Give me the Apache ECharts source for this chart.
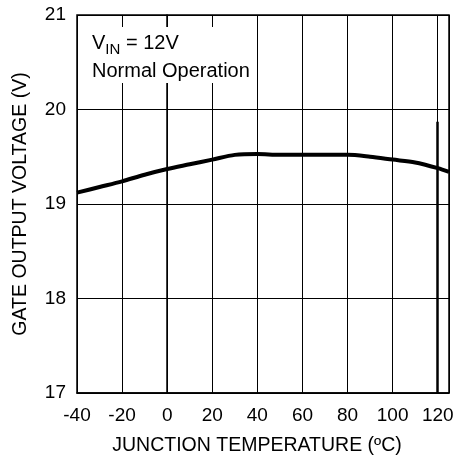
<!DOCTYPE html>
<html>
<head>
<meta charset="utf-8">
<script src="https://cdn.jsdelivr.net/npm/echarts@6/dist/echarts.min.js"></script>
<style>
  html, body { margin: 0; padding: 0; background: #fff; }
  #chart { width: 460px; height: 462px; }
</style>
</head>
<body>
<div id="chart"></div>
<script>
// junction temperature (C) vs gate output voltage (V)
const temps = [-40, -30, -20, -10, 0, 10, 20, 30, 40, 50, 60, 70, 80, 90, 100, 110, 120, 125];
const volts = [19.12, 19.18, 19.24, 19.31, 19.37, 19.42, 19.47, 19.52, 19.53, 19.52, 19.52, 19.52, 19.52, 19.50, 19.47, 19.44, 19.38, 19.34];
// heavy vertical stroke seen at 120C in the original
const markerSeg = [[120, 19.87], [120, 17]];

const chart = echarts.init(document.getElementById('chart'));
const font = 'Liberation Sans, Arial, sans-serif';

const option = {
  animation: false,
  backgroundColor: '#fff',
  grid: {
    left: 77,
    right: 11,
    top: 15,
    bottom: 69,
    show: true,
    borderColor: '#000',
    borderWidth: 1.5
  },
  title: {
    left: 88,
    top: 27,
    padding: [2, 4, 2, 4],
    backgroundColor: '#fff',
    text: '{a|V}{b|IN}{a| = 12V}\n{a|Normal Operation}',
    textStyle: {
      fontWeight: 'normal',
      rich: {
        a: { fontSize: 20, fontFamily: font, fontWeight: 'normal', color: '#000', lineHeight: 28 },
        b: { fontSize: 15, fontFamily: font, fontWeight: 'normal', color: '#000', lineHeight: 28, padding: [13, 0, 0, 0] }
      }
    }
  },
  xAxis: {
    type: 'value',
    min: -40,
    max: 125,
    interval: 20,
    name: 'JUNCTION TEMPERATURE (ºC)',
    nameLocation: 'middle',
    nameGap: 43,
    nameTextStyle: { fontSize: 19.5, fontFamily: font, color: '#000', padding: [0, 12, 0, 0] },
    axisLine: { show: true, lineStyle: { color: '#000', width: 1.5 } },
    axisTick: { show: false },
    axisLabel: { fontSize: 19, fontFamily: font, color: '#000', margin: 13, showMaxLabel: false },
    splitLine: { show: true, lineStyle: { color: '#000', width: 1 } }
  },
  yAxis: {
    type: 'value',
    min: 17,
    max: 21,
    interval: 1,
    name: 'GATE OUTPUT VOLTAGE (V)',
    nameLocation: 'middle',
    nameGap: 46,
    nameTextStyle: { fontSize: 19.5, fontFamily: font, color: '#000' },
    axisLine: { show: true, lineStyle: { color: '#000', width: 1.5 } },
    axisTick: { show: false },
    axisLabel: { fontSize: 19, fontFamily: font, color: '#000', margin: 11 },
    splitLine: { show: true, lineStyle: { color: '#000', width: 1 } }
  },
  series: [
    {
      type: 'line',
      data: temps.map((t, i) => [t, volts[i]]),
      smooth: 0.3,
      symbol: 'none',
      lineStyle: { color: '#000', width: 4 },
      z: 5,
      markLine: {
        silent: true,
        symbol: 'none',
        label: { show: false },
        lineStyle: { color: '#000', width: 2.5, type: 'solid' },
        data: [[{ coord: markerSeg[0] }, { coord: markerSeg[1] }]]
      }
    }
  ]
};

chart.setOption(option);
</script>
</body>
</html>
